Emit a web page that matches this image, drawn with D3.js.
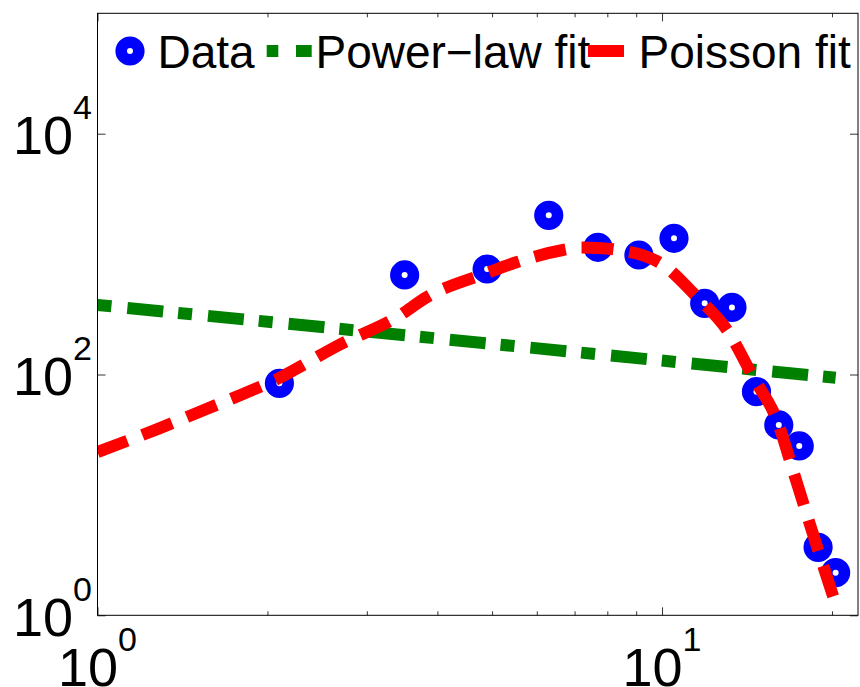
<!DOCTYPE html>
<html>
<head>
<meta charset="utf-8">
<script src="https://cdn.jsdelivr.net/npm/d3@7"></script>
<style>
  html, body { margin: 0; padding: 0; background: #fff; }
  svg { display: block; }
  text { font-family: "Liberation Sans", Arial, Helvetica, sans-serif; fill: #000; }
</style>
</head>
<body>
<svg id="chart" width="860" height="687"></svg>
<script>
// Observed histogram (bin centres and counts)
const binCenters = [2.1, 3.5, 4.9, 6.3, 7.7, 9.1, 10.5, 11.9, 13.3, 14.7, 16.1, 17.5, 18.9, 20.3];
const counts     = [84.5, 671, 752, 2100, 1139, 983, 1353, 390, 361, 72, 38.1, 25.5, 3.67, 2.26];

// Power-law fit (straight line on log-log axes)
const powerX = [1, 20.3];
const powerY = [378, 94];

// Poisson fit curve
const poissonX = [1, 1.29, 1.544, 1.863, 2.097, 2.229, 2.678, 3.394, 3.835, 4.898, 5.536, 6.677,
                  7.155, 7.672, 8.256, 9.92, 11.53, 13.04, 14.5, 16.05, 16.99, 18.06, 19.2, 20.25];
const poissonY = [22.7, 35.9, 50.7, 72.9, 93.5, 109, 175.8, 300, 440, 697, 859, 1082,
                  1134, 1124, 1092, 844, 440, 234, 95.3, 39.6, 17.0, 6.81, 2.77, 1.29];

const seriesNames = ["Data", "Power\u2212law fit", "Poisson fit"];

// Axis ticks
const xMajorTicks = [1, 10];
const xMinorTicks = [2, 3, 4, 5, 6, 7, 8, 9, 20];
const yMajorTicks = [1, 100, 10000];

const svg = d3.select("#chart");
const plotLeft = 97.5, plotRight = 858, plotTop = 13.3, plotBottom = 615.3;

const x = d3.scaleLog().domain([1, 22.24]).range([plotLeft, plotRight]);
const y = d3.scaleLog().domain([1, 1e5]).range([plotBottom, plotTop]);

const blue = "#0000ff", green = "#008000", red = "#ff0000";

svg.append("defs").append("clipPath").attr("id", "plotClip")
  .append("rect").attr("x", plotLeft).attr("y", plotTop)
  .attr("width", plotRight - plotLeft).attr("height", plotBottom - plotTop);

// Tick marks (pointing inward) on all four sides
function tickLayer(axis, transform) {
  const g = svg.append("g").attr("transform", transform).call(axis);
  g.select(".domain").remove();
  g.selectAll(".tick line").attr("stroke", "#333").attr("stroke-width", 1);
  g.selectAll(".tick text").remove();
  return g;
}
tickLayer(d3.axisBottom(x).tickValues(xMajorTicks).tickSize(-8), `translate(0,${plotBottom})`);
tickLayer(d3.axisBottom(x).tickValues(xMinorTicks).tickSize(-4), `translate(0,${plotBottom})`);
tickLayer(d3.axisTop(x).tickValues(xMajorTicks).tickSize(-8), `translate(0,${plotTop})`);
tickLayer(d3.axisTop(x).tickValues(xMinorTicks).tickSize(-4), `translate(0,${plotTop})`);
tickLayer(d3.axisLeft(y).tickValues(yMajorTicks).tickSize(-8), `translate(${plotLeft},0)`);
tickLayer(d3.axisRight(y).tickValues(yMajorTicks).tickSize(-8), `translate(${plotRight},0)`);

// Power-of-ten labels with superscript exponents
function powerLabel(sel, v) {
  sel.append("tspan").attr("font-size", 54).text("10");
  sel.append("tspan").attr("font-size", 34).attr("dy", -35)
    .text(Math.round(Math.log10(v)));
}
const xLab = svg.append("g");
xMajorTicks.forEach(v => {
  const t = xLab.append("text").attr("x", x(v)).attr("y", 686).attr("text-anchor", "middle");
  powerLabel(t, v);
});
const yLab = svg.append("g");
yMajorTicks.forEach(v => {
  const t = yLab.append("text").attr("x", 92).attr("y", y(v) + 20.5).attr("text-anchor", "end");
  powerLabel(t, v);
});

// Plot contents
const plot = svg.append("g").attr("clip-path", "url(#plotClip)");

plot.selectAll("circle.data").data(binCenters.map((b, i) => [b, counts[i]]))
  .enter().append("circle").attr("class", "data")
  .attr("cx", d => x(d[0])).attr("cy", d => y(d[1]))
  .attr("r", 8.8).attr("fill", "none")
  .attr("stroke", blue).attr("stroke-width", 11.6);

const straight = d3.line().x(d => x(d[0])).y(d => y(d[1]));
plot.append("path")
  .attr("d", straight(powerX.map((v, i) => [v, powerY[i]])))
  .attr("fill", "none").attr("stroke", green).attr("stroke-width", 12)
  .attr("stroke-linecap", "butt").attr("stroke-dasharray", "14,16,36,15");

const smooth = d3.line().x(d => x(d[0])).y(d => y(d[1])).curve(d3.curveMonotoneX);
plot.append("path")
  .attr("d", smooth(poissonX.map((v, i) => [v, poissonY[i]])))
  .attr("fill", "none").attr("stroke", red).attr("stroke-width", 12)
  .attr("stroke-linecap", "butt").attr("stroke-dasharray", "32,16");

// Frame
svg.append("rect").attr("x", plotLeft).attr("y", plotTop)
  .attr("width", plotRight - plotLeft).attr("height", plotBottom - plotTop)
  .attr("fill", "none").attr("stroke", "#000").attr("stroke-width", 1);

// Legend (no box)
const leg = svg.append("g");
const legY = 51;
leg.append("circle").attr("cx", 130).attr("cy", legY).attr("r", 8.8)
  .attr("fill", "none").attr("stroke", blue).attr("stroke-width", 11.6);
leg.append("text").attr("x", 157.5).attr("y", 68).attr("font-size", 46).text(seriesNames[0]);
leg.append("line").attr("x1", 266.7).attr("x2", 311.7).attr("y1", legY).attr("y2", legY)
  .attr("stroke", green).attr("stroke-width", 12).attr("stroke-dasharray", "11.6,17.7,16");
leg.append("text").attr("x", 315.5).attr("y", 68).attr("font-size", 46).text(seriesNames[1]);
leg.append("line").attr("x1", 588).attr("x2", 624).attr("y1", legY).attr("y2", legY)
  .attr("stroke", red).attr("stroke-width", 12);
leg.append("text").attr("x", 638.5).attr("y", 68).attr("font-size", 46).text(seriesNames[2]);
</script>
</body>
</html>
